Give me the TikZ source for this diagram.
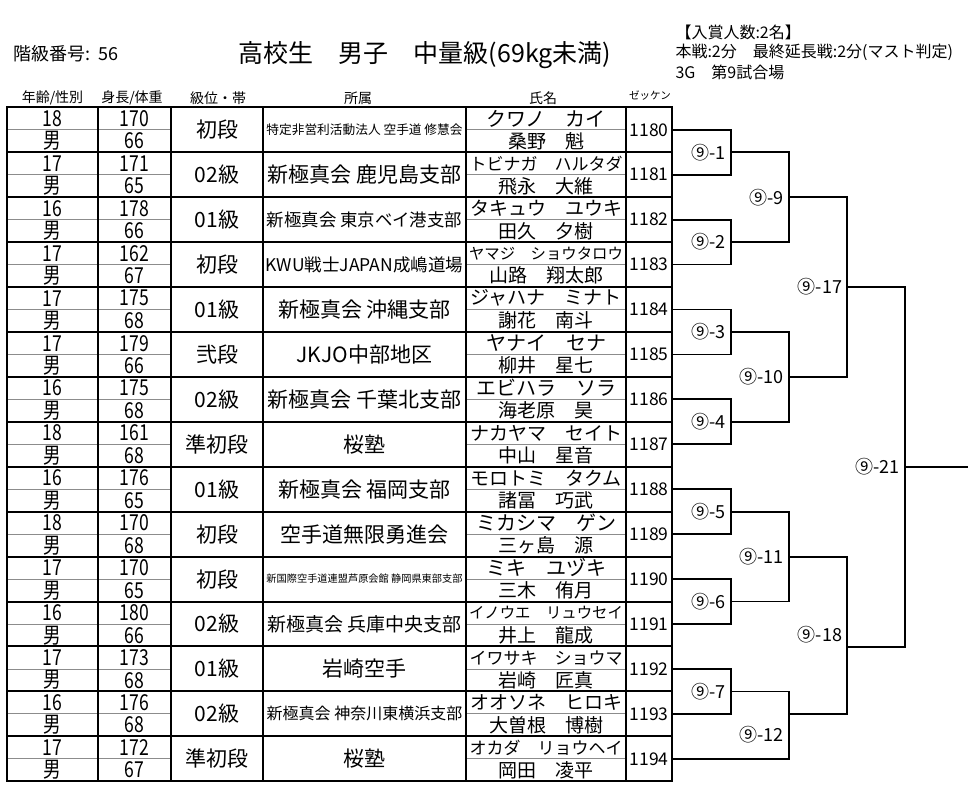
\documentclass[tikz,border=0pt]{standalone}
\usepackage{fontspec}
\setmainfont{Noto Sans CJK JP}
\newfontfamily\narrowjp{Noto Sans CJK JP}[FakeStretch=0.8]
\newcommand{\fsz}[1]{\fontsize{#1}{#1}\selectfont}
\tikzset{
  frame line/.style={line width=2pt},
  col line/.style={line width=1.8pt},
  sub line/.style={line width=0.8pt, black!45},
  bracket/.style={line width=1.8pt},
  mlabel/.style={anchor=east, inner sep=0pt, font=\fsz{18}},
}

\begin{document}
\begin{tikzpicture}[x=1pt, y=-1pt]
    \useasboundingbox (0,0) rectangle (977,793);
    % heading
    \node at (10,54) [anchor=west, font=\fsz{18}] (classno) {階級番号:~~56};
    \node at (425,55) [font=\fsz{25}] (title) {高校生　男子　中量級(69kg未満)};
    \node at (672,32) [anchor=west, font=\fsz{16}] (prize) {【入賞人数:2名】};
    \node at (672,52) [anchor=west, font=\fsz{16}] (rule) {本戦:2分　最終延長戦:2分(マスト判定)};
    \node at (672,72) [anchor=west, font=\fsz{16}] (court) {3G　第9試合場};
    % column heads
    \node at (52.5,98) [font=\fsz{14}] (hage) {年齢/性別};
    \node at (132,98) [font=\fsz{14}] (hsize) {身長/体重};
    \node at (218,98) [font=\fsz{14}] (hkyu) {級位・帯};
    \node at (358,98) [font=\fsz{14}] (hclub) {所属};
    \node at (543,98) [font=\fsz{14}] (hname) {氏名};
    \node at (650,96) [font=\fsz{10.5}] (hnum) {ゼッケン};
    % table rules
    \foreach \i in {0,...,14} {
        \draw [sub line] (7,129.77+44.93*\i) -- (171,129.77+44.93*\i);
        \draw [sub line] (466,129.77+44.93*\i) -- (626,129.77+44.93*\i);
    }
    \foreach \x in {98,171,263,466,626}
        \draw [col line] (\x,107.3) -- (\x,781.25);
    \foreach \i in {1,...,14}
        \draw [frame line] (7,107.3+44.93*\i) -- (672,107.3+44.93*\i);
    \draw [frame line] (7,107.3) rectangle (672,781.25);
    % entries: age/height/weight/grade/club/club size/kana/kana size/name
    \foreach \i/\age/\hgt/\wgt/\kyu/\club/\cs/\kana/\ks/\kanji in {
        0/18/170/66/初段/特定非営利活動法人 空手道 修慧会/12.7/クワノ　カイ/20/桑野　魁,
        1/17/171/65/02級/新極真会 鹿児島支部/21/トビナガ　ハルタダ/17/飛永　大維,
        2/16/178/66/01級/新極真会 東京ベイ港支部/17.4/タキュウ　ユウキ/19/田久　夕樹,
        3/17/162/67/初段/KWU戦士JAPAN成嶋道場/17.5/ヤマジ　ショウタロウ/15.4/山路　翔太郎,
        4/17/175/68/01級/新極真会 沖縄支部/21/ジャハナ　ミナト/19/謝花　南斗,
        5/17/179/66/弐段/JKJO中部地区/21/ヤナイ　セナ/20/柳井　星七,
        6/16/175/68/02級/新極真会 千葉北支部/21/エビハラ　ソラ/20/海老原　昊,
        7/18/161/68/準初段/桜塾/21/ナカヤマ　セイト/19/中山　星音,
        8/16/176/65/01級/新極真会 福岡支部/21/モロトミ　タクム/19/諸冨　巧武,
        9/18/170/68/初段/空手道無限勇進会/21/ミカシマ　ゲン/20/三ヶ島　源,
        10/17/170/65/初段/新国際空手道連盟芦原会館 静岡県東部支部/10.2/ミキ　ユヅキ/20/三木　侑月,
        11/16/180/66/02級/新極真会 兵庫中央支部/19/イノウエ　リュウセイ/15.4/井上　龍成,
        12/17/173/68/01級/岩崎空手/21/イワサキ　ショウマ/17/岩崎　匠真,
        13/16/176/68/02級/新極真会 神奈川東横浜支部/16/オオソネ　ヒロキ/19/大曽根　博樹,
        14/17/172/67/準初段/桜塾/21/オカダ　リョウヘイ/17/岡田　凌平%
    } {
        \pgfmathtruncatemacro\bib{1180+\i}
        \node at (52.5,118.5+44.93*\i) [font=\narrowjp\fsz{22}] (age\i) {\age};
        \node at (52.5,141+44.93*\i) [font=\narrowjp\fsz{22}] (sex\i) {男};
        \node at (134.5,118.5+44.93*\i) [font=\narrowjp\fsz{22}] (hgt\i) {\hgt};
        \node at (134.5,141+44.93*\i) [font=\narrowjp\fsz{22}] (wgt\i) {\wgt};
        \node at (217,129.77+44.93*\i) [font=\fsz{21}] (kyu\i) {\kyu};
        \node at (364.5,129.77+44.93*\i) [font=\fsz{\cs}] (club\i) {\club};
        \node at (546,118.5+44.93*\i) [font=\fsz{\ks}] (kana\i) {\kana};
        \node at (546,141+44.93*\i) [font=\fsz{19}] (kanji\i) {\kanji};
        \node at (649,129.77+44.93*\i) [font=\fsz{17.5}, minimum width=46pt, minimum height=44pt, inner sep=0pt] (z\i) {\bib};
    }
    % first round
    \foreach \k in {1,...,7} {
        \pgfmathtruncatemacro\a{2*\k-2}
        \pgfmathtruncatemacro\b{2*\k-1}
        \coordinate (j\k) at (730.7,129.77+44.93*\k*2-44.93*1.5);
        \draw [bracket] (z\a.east) -| (j\k) |- (z\b.east);
        \node at ([xshift=-5pt]j\k) [mlabel] (m\k) {⑨-\k};
    }
    % later rounds
    \coordinate (j9) at (789,197.2);
    \coordinate (j10) at (789,376.9);
    \coordinate (j11) at (789,556.6);
    \coordinate (j12) at (789,714);
    \coordinate (j17) at (847.3,287);
    \coordinate (j18) at (847.3,646.7);
    \coordinate (j21) at (905,466.9);
    \coordinate (fin) at (968.3,466.9);
    \draw [bracket] (j1) -| (j9) |- (j2);
    \draw [bracket] (j3) -| (j10) |- (j4);
    \draw [bracket] (j5) -| (j11) |- (j6);
    \draw [bracket] (j7) -| (j12) |- (z14.east);
    \draw [bracket] (j9) -| (j17) |- (j10);
    \draw [bracket] (j11) -| (j18) |- (j12);
    \draw [bracket] (j17) -| (j21) |- (j18);
    \draw [bracket] (j21) -- (fin);
    \node at ([xshift=-5pt]j9) [mlabel] (m9) {⑨-9};
    \node at ([xshift=-5pt]j10) [mlabel] (m10) {⑨-10};
    \node at ([xshift=-5pt]j11) [mlabel] (m11) {⑨-11};
    \node at (784,735) [mlabel] (m12) {⑨-12};
    \node at ([xshift=-5pt]j17) [mlabel] (m17) {⑨-17};
    \node at (842.3,635) [mlabel] (m18) {⑨-18};
    \node at ([xshift=-5pt]j21) [mlabel] (m21) {⑨-21};
\end{tikzpicture}
\end{document}
